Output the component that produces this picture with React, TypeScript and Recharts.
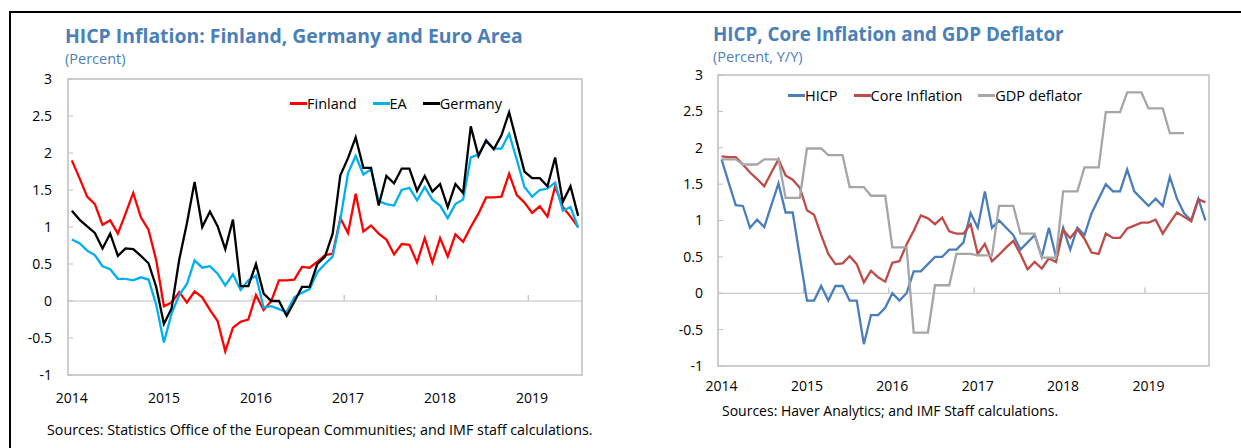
import React from 'react';
import { LineChart, Line, XAxis, YAxis, ReferenceLine, ReferenceArea, Legend } from 'recharts';

const years = ['2014', '2015', '2016', '2017', '2018', '2019'];
const yearTickIdx = [0, 12, 24, 36, 48, 60];
const yearBoundaries = [11.5, 23.5, 35.5, 47.5, 59.5];
const yTicks = [-1, -0.5, 0, 0.5, 1, 1.5, 2, 2.5, 3];

// Left chart: HICP inflation, monthly Jan 2014 - Jul 2019
const leftSeries = ['Finland', 'EA', 'Germany'];
const finland = [
  1.9, 1.66, 1.41, 1.31, 1.03, 1.09, 0.91, 1.18, 1.46, 1.13, 0.96, 0.55,
  -0.07, -0.02, 0.12, -0.02, 0.13, 0.05, -0.12, -0.27, -0.68, -0.36, -0.28, -0.25,
  0.08, -0.12, 0.0, 0.28, 0.28, 0.29, 0.46, 0.45, 0.53, 0.62, 0.64, 1.12,
  0.92, 1.45, 0.94, 1.02, 0.91, 0.83, 0.63, 0.77, 0.76, 0.52, 0.85, 0.52,
  0.85, 0.6, 0.9, 0.8, 1.0, 1.18, 1.4, 1.4, 1.41, 1.72, 1.43, 1.33,
  1.19, 1.28, 1.14, 1.55, 1.27, 1.14, 1.0,
];
const ea = [
  0.83, 0.78, 0.68, 0.62, 0.47, 0.43, 0.3, 0.3, 0.28, 0.32, 0.29, -0.05,
  -0.56, -0.17, 0.08, 0.23, 0.55, 0.45, 0.47, 0.37, 0.21, 0.36, 0.15, 0.28,
  0.34, -0.09, -0.07, -0.11, -0.15, 0.05, 0.11, 0.16, 0.39, 0.5, 0.6, 1.1,
  1.73, 1.96, 1.71, 1.78, 1.35, 1.31, 1.29, 1.5, 1.53, 1.36, 1.54, 1.37,
  1.29, 1.12, 1.31, 1.37, 1.94, 1.98, 2.16, 2.06, 2.06, 2.26, 1.91, 1.54,
  1.41, 1.5, 1.52, 1.6, 1.22, 1.27, 0.99,
];
const germany = [
  1.22, 1.1, 1.01, 0.92, 0.71, 0.91, 0.61, 0.71, 0.7, 0.61, 0.51, 0.19,
  -0.31, -0.1, 0.56, 1.05, 1.61, 1.0, 1.21, 1.01, 0.7, 1.1, 0.2, 0.2,
  0.5, 0.1, 0.0, 0.0, -0.2, -0.01, 0.19, 0.19, 0.5, 0.6, 0.91, 1.7,
  1.93, 2.21, 1.8, 1.8, 1.29, 1.69, 1.59, 1.79, 1.79, 1.49, 1.69, 1.48,
  1.58, 1.27, 1.58, 1.46, 2.36, 1.96, 2.17, 2.05, 2.24, 2.55, 2.15, 1.75,
  1.66, 1.66, 1.55, 1.94, 1.34, 1.55, 1.15,
];

// Right chart: monthly Jan 2014 - Sep 2019
const rightSeries = ['HICP', 'Core Inflation', 'GDP deflator'];
const hicp = [
  1.84, 1.52, 1.21, 1.2, 0.9, 1.01, 0.91, 1.21, 1.51, 1.11, 1.11, 0.5,
  -0.1, -0.1, 0.1, -0.1, 0.1, 0.1, -0.1, -0.1, -0.7, -0.3, -0.3, -0.2,
  0.0, -0.1, 0.0, 0.3, 0.3, 0.4, 0.5, 0.5, 0.6, 0.6, 0.7, 1.1,
  0.9, 1.4, 0.9, 1.0, 0.9, 0.8, 0.6, 0.7, 0.8, 0.5, 0.9, 0.5,
  0.9, 0.6, 0.9, 0.8, 1.1, 1.3, 1.5, 1.4, 1.4, 1.7, 1.4, 1.3,
  1.2, 1.3, 1.2, 1.6, 1.3, 1.1, 1.0, 1.3, 1.0,
];
const core = [
  1.88, 1.87, 1.87, 1.77, 1.66, 1.57, 1.47, 1.66, 1.84, 1.62, 1.56, 1.45,
  1.14, 1.08, 0.8, 0.54, 0.4, 0.41, 0.51, 0.4, 0.15, 0.31, 0.22, 0.16,
  0.42, 0.44, 0.67, 0.86, 1.07, 1.03, 0.95, 1.04, 0.85, 0.82, 0.82, 0.95,
  0.54, 0.68, 0.44, 0.53, 0.63, 0.72, 0.54, 0.33, 0.43, 0.34, 0.48, 0.43,
  0.87, 0.76, 0.88, 0.75, 0.56, 0.54, 0.82, 0.76, 0.76, 0.89, 0.93, 0.97,
  0.97, 1.01, 0.82, 0.97, 1.11, 1.05, 0.99, 1.29, 1.25,
];
const gdpDeflator = [
  1.84, 1.84, 1.84, 1.77, 1.77, 1.77, 1.84, 1.84, 1.84, 1.31, 1.31, 1.31,
  1.99, 1.99, 1.99, 1.9, 1.9, 1.9, 1.46, 1.46, 1.46, 1.34, 1.34, 1.34,
  0.63, 0.63, 0.63, -0.54, -0.54, -0.54, 0.11, 0.11, 0.11, 0.54, 0.54, 0.54,
  0.52, 0.52, 0.52, 1.2, 1.2, 1.2, 0.82, 0.82, 0.82, 0.49, 0.49, 0.49,
  1.4, 1.4, 1.4, 1.73, 1.73, 1.73, 2.49, 2.49, 2.49, 2.76, 2.76, 2.76,
  2.54, 2.54, 2.54, 2.2, 2.2, 2.2,
];

const leftData = finland.map((v, i) => ({ i, finland: v, ea: ea[i], germany: germany[i] }));
const rightData = hicp.map((v, i) => ({
  i,
  hicp: v,
  core: core[i],
  gdp: i < gdpDeflator.length ? gdpDeflator[i] : null,
}));

const FONT = '"Open Sans", "Noto Sans", sans-serif';
const TITLE_COLOR = '#4a7fb8';
const GRID = '#bfbfbf';

const makeLegend = (order: string[]) => (props: any) => {
  const payload = [...(props.payload || [])].sort(
    (a: any, b: any) => order.indexOf(a.value) - order.indexOf(b.value)
  );
  return (
    <div style={{ display: 'flex', gap: 16, fontFamily: FONT, fontSize: 14.5, color: '#000', alignItems: 'center', whiteSpace: 'nowrap', lineHeight: 1.2 }}>
      {payload.map((p: any) => (
        <span key={p.value} style={{ display: 'flex', alignItems: 'center' }}>
          <span style={{ display: 'inline-block', width: 17, height: 2.5, background: p.color }} />
          <span>{p.value}</span>
        </span>
      ))}
    </div>
  );
};

const tickStyle = { fontFamily: FONT, fontSize: 14, fill: '#000' };

export default function App() {
  return (
    <div style={{ position: 'absolute', left: 0, top: 0, width: 1241, height: 448, background: '#fff', overflow: 'hidden' }}>
      {/* frame lines */}
      <div style={{ position: 'absolute', left: 9, top: 11, width: 1232, height: 2, background: '#000' }} />
      <div style={{ position: 'absolute', left: 9, top: 11, width: 2, height: 437, background: '#000' }} />

      {/* Left titles */}
      <div style={{ position: 'absolute', left: 65, top: 26, fontFamily: FONT, fontWeight: 700, fontSize: 19.4, lineHeight: 1, color: TITLE_COLOR, whiteSpace: 'nowrap' }}>
        HICP Inflation: Finland, Germany and Euro Area
      </div>
      <div style={{ position: 'absolute', left: 65, top: 52, fontFamily: FONT, fontSize: 14.5, lineHeight: 1, color: TITLE_COLOR }}>
        (Percent)
      </div>
      {/* Right titles */}
      <div style={{ position: 'absolute', left: 713, top: 25, fontFamily: FONT, fontWeight: 700, fontSize: 18.8, lineHeight: 1, color: TITLE_COLOR, whiteSpace: 'nowrap' }}>
        HICP, Core Inflation and GDP Deflator
      </div>
      <div style={{ position: 'absolute', left: 713, top: 50, fontFamily: FONT, fontSize: 14.5, lineHeight: 1, color: TITLE_COLOR }}>
        (Percent, Y/Y)
      </div>

      {/* Left chart */}
      <div style={{ position: 'absolute', left: 0, top: 0 }}>
        <LineChart width={620} height={448} data={leftData} margin={{ top: 79, right: 38, left: 8, bottom: 43 }}>
          <XAxis
            dataKey="i"
            type="number"
            domain={[-0.5, finland.length - 0.5]}
            ticks={yearTickIdx}
            tickFormatter={(v: number) => years[v / 12]}
            axisLine={false}
            tickLine={false}
            tick={tickStyle}
            tickMargin={12}
            height={30}
            allowDataOverflow
          />
          <YAxis
            type="number"
            domain={[-1, 3]}
            ticks={yTicks}
            tickFormatter={(v: number) => String(v)}
            axisLine={false}
            tickSize={-5}
            tickMargin={21}
            tickLine={{ stroke: GRID }}
            tick={tickStyle}
            width={60}
            allowDataOverflow
          />
          <ReferenceArea x1={-0.5} x2={finland.length - 0.5} y1={-1} y2={3} fill="none" stroke={GRID} strokeWidth={1.5} ifOverflow="visible" />
          <ReferenceLine y={0} stroke={GRID} strokeWidth={1.2} />
          {yearBoundaries.map((b) => (
            <ReferenceLine key={b} segment={[{ x: b, y: 0 }, { x: b, y: 0.08 }]} stroke={GRID} strokeWidth={1.2} />
          ))}
          <Legend
            content={makeLegend(leftSeries)}
            layout="horizontal"
            verticalAlign="middle"
            align="center"
            wrapperStyle={{ left: 290, top: 95, width: 'auto' }}
          />
          <Line name={leftSeries[0]} dataKey="finland" stroke="#ff0000" strokeWidth={2.3} dot={false} isAnimationActive={false} />
          <Line name={leftSeries[1]} dataKey="ea" stroke="#00b0f0" strokeWidth={2.3} dot={false} isAnimationActive={false} />
          <Line name={leftSeries[2]} dataKey="germany" stroke="#000000" strokeWidth={2.3} dot={false} isAnimationActive={false} />
        </LineChart>
      </div>

      {/* Right chart */}
      <div style={{ position: 'absolute', left: 620, top: 0 }}>
        <LineChart width={621} height={448} data={rightData} margin={{ top: 75, right: 32, left: 38, bottom: 52 }}>
          <XAxis
            dataKey="i"
            type="number"
            domain={[-0.5, hicp.length - 0.5]}
            ticks={yearTickIdx}
            tickFormatter={(v: number) => years[v / 12]}
            axisLine={false}
            tickLine={false}
            tick={tickStyle}
            tickMargin={9}
            height={30}
            allowDataOverflow
          />
          <YAxis
            type="number"
            domain={[-1, 3]}
            ticks={yTicks}
            tickFormatter={(v: number) => String(v)}
            axisLine={false}
            tickSize={-5}
            tickMargin={20}
            tickLine={{ stroke: GRID }}
            tick={tickStyle}
            width={60}
            allowDataOverflow
          />
          <ReferenceArea x1={-0.5} x2={hicp.length - 0.5} y1={-1} y2={3} fill="none" stroke={GRID} strokeWidth={1.5} ifOverflow="visible" />
          <ReferenceLine y={0} stroke={GRID} strokeWidth={1.2} />
          {yearBoundaries.map((b) => (
            <ReferenceLine key={b} segment={[{ x: b, y: 0 }, { x: b, y: 0.08 }]} stroke={GRID} strokeWidth={1.2} />
          ))}
          <Legend
            content={makeLegend(rightSeries)}
            layout="horizontal"
            verticalAlign="middle"
            align="center"
            wrapperStyle={{ left: 168, top: 87, width: 'auto' }}
          />
          <Line name={rightSeries[0]} dataKey="hicp" stroke="#4a7ebb" strokeWidth={2.3} dot={false} isAnimationActive={false} />
          <Line name={rightSeries[1]} dataKey="core" stroke="#be4b48" strokeWidth={2.3} dot={false} isAnimationActive={false} />
          <Line name={rightSeries[2]} dataKey="gdp" stroke="#a6a6a6" strokeWidth={2.3} dot={false} isAnimationActive={false} />
        </LineChart>
      </div>

      {/* Sources */}
      <div style={{ position: 'absolute', left: 47, top: 423, fontFamily: FONT, fontSize: 14.3, lineHeight: 1, color: '#000', whiteSpace: 'nowrap' }}>
        Sources: Statistics Office of the European Communities; and IMF staff calculations.
      </div>
      <div style={{ position: 'absolute', left: 722, top: 404, fontFamily: FONT, fontSize: 14, lineHeight: 1, color: '#000', whiteSpace: 'nowrap' }}>
        Sources: Haver Analytics; and IMF Staff calculations.
      </div>
    </div>
  );
}
